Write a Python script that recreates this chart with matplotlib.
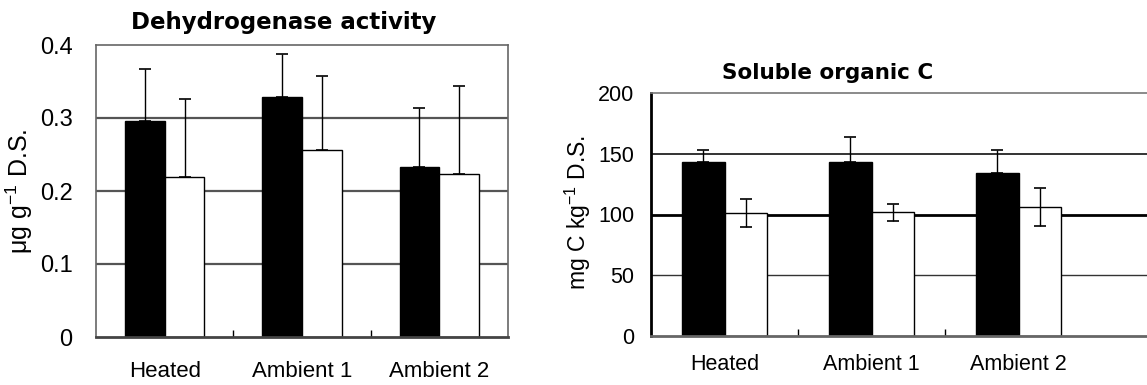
import numpy as np
import matplotlib
matplotlib.use("Agg")
import matplotlib.pyplot as plt

plt.rcParams['font.family'] = ['Liberation Sans', 'DejaVu Sans']
plt.rcParams['mathtext.default'] = 'regular'

categorias = ['Heated', 'Ambient 1', 'Ambient 2']

# Dehydrogenase activity (ug g-1 D.S.)
dh_preto = [0.296, 0.329, 0.233]
dh_preto_err = [0.071, 0.059, 0.081]
dh_branco = [0.219, 0.256, 0.223]
dh_branco_err = [0.107, 0.102, 0.121]

# Soluble organic C (mg C kg-1 D.S.)
soc_preto = [143, 143, 134]
soc_preto_err = [10, 21, 19]
soc_branco = [101, 102, 106]
soc_branco_err = [11.5, 7, 15.5]

W, H = 1147, 385
fig = plt.figure(figsize=(W / 100, H / 100), dpi=100)

largura = 0.29
x = np.arange(len(categorias))


def painel(ax, preto, preto_err, branco, branco_err, simetrico, tam):
    if simetrico:
        err_b = branco_err
    else:
        err_b = [np.zeros(len(branco_err)), branco_err]
    err_p = [np.zeros(len(preto_err)), preto_err]
    ax.bar(x - largura / 2, preto, largura, color='black', edgecolor='black',
           linewidth=1, zorder=2)
    ax.bar(x + largura / 2, branco, largura, color='white', edgecolor='black',
           linewidth=1, zorder=2)
    ax.errorbar(x - largura / 2, preto, yerr=err_p, fmt='none', ecolor='black',
                elinewidth=1, capsize=4, capthick=1.2, zorder=3)
    ax.errorbar(x + largura / 2, branco, yerr=err_b, fmt='none', ecolor='black',
                elinewidth=1, capsize=4, capthick=1.2, zorder=3)
    ax.set_xticks(x, categorias)
    ax.set_xticks([0.5, 1.5], minor=True)
    ax.tick_params(axis='x', which='major', length=0, labelsize=tam)
    ax.tick_params(axis='x', which='minor', direction='in', length=5, width=1)
    ax.tick_params(axis='y', length=0, labelsize=tam)


# Painel esquerdo
ax1 = fig.add_axes([96 / W, 1 - 337 / H, 412 / W, (337 - 45) / H])
painel(ax1, dh_preto, dh_preto_err, dh_branco, dh_branco_err, False, 16)
ax1.set_xlim(-0.5, 2.5)
ax1.set_ylim(0, 0.4)
ax1.set_yticks([0, 0.1, 0.2, 0.3, 0.4], ['0', '0.1', '0.2', '0.3', '0.4'])
for v in [0.1, 0.2, 0.3]:
    ax1.axhline(v, color='#555555', lw=1.6, zorder=1)
ax1.tick_params(axis='x', which='major', pad=17)
ax1.tick_params(axis='y', pad=17, labelsize=17)
for s in ['left', 'right', 'top']:
    ax1.spines[s].set_color('#666666')
    ax1.spines[s].set_linewidth(1.2)
ax1.spines['bottom'].set_color('#444444')
ax1.spines['bottom'].set_linewidth(2)
ax1.set_ylabel(u'\u03bcg g$^{-1}$ D.S.', fontsize=18)
ax1.yaxis.set_label_coords(-0.148, 0.5)
fig.text(284 / W, 1 - 22 / H, 'Dehydrogenase activity', ha='center', va='center',
         fontsize=16.5, fontweight='bold', family='DejaVu Sans')

# Painel direito
passo = 147
ax2 = fig.add_axes([651 / W, 1 - 336 / H, 3.5 * passo / W, (336 - 93) / H])
painel(ax2, soc_preto, soc_preto_err, soc_branco, soc_branco_err, True, 15.5)
ax2.set_xlim(-0.5, 3.0)
ax2.set_ylim(0, 200)
ax2.set_yticks([0, 50, 100, 150, 200])
ax2.axhline(50, color='#333333', lw=1.0, zorder=1)
ax2.axhline(100, color='black', lw=2.0, zorder=1)
ax2.axhline(150, color='#333333', lw=1.4, zorder=1)
ax2.tick_params(axis='x', which='major', pad=13)
ax2.tick_params(axis='y', pad=12)
ax2.spines['right'].set_visible(False)
ax2.spines['left'].set_color('black')
ax2.spines['left'].set_linewidth(2)
ax2.spines['top'].set_color('#777777')
ax2.spines['top'].set_linewidth(1.2)
ax2.spines['bottom'].set_color('#666666')
ax2.spines['bottom'].set_linewidth(2)
ax2.set_ylabel('mg C kg$^{-1}$ D.S.', fontsize=16.5)
ax2.yaxis.set_label_coords(-0.113, 0.51)
fig.text(828 / W, 1 - 73 / H, 'Soluble organic C', ha='center', va='center',
         fontsize=15.5, fontweight='bold', family='DejaVu Sans')

fig.savefig('out.png', dpi=100, facecolor='white')
